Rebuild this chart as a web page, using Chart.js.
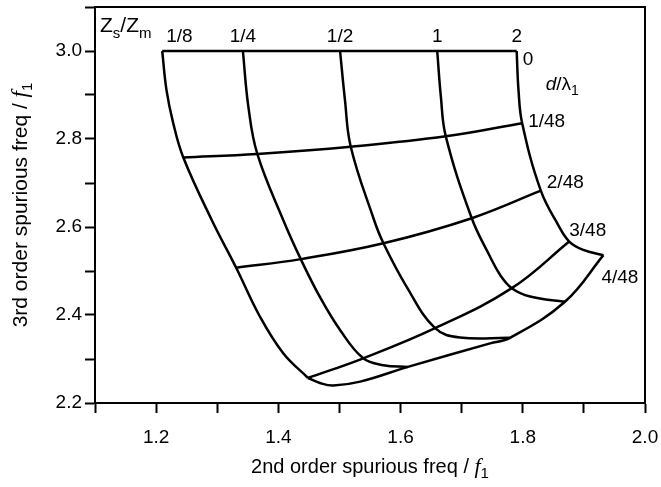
<!DOCTYPE html>
<html>
<head>
<meta charset="utf-8">
<script src="https://cdn.jsdelivr.net/npm/chart.js@4"></script>
<style>
  html, body { margin: 0; padding: 0; background: #fff; }
  #chart { display: block; }
</style>
</head>
<body>
<canvas id="chart" width="661" height="487"></canvas>
<script>
// curve labels
const zsNames = ['1/8', '1/4', '1/2', '1', '2'];
const dNames = ['0', '1/48', '2/48', '3/48', '4/48'];

// lines of constant Zs/Zm, [2nd order freq, 3rd order freq]
const zsEighth = [[1.210, 3.000], [1.217, 2.911], [1.228, 2.836], [1.2445, 2.758], [1.291, 2.616], [1.331, 2.5075], [1.370, 2.396], [1.408, 2.313], [1.4486, 2.2568]];
const zsQuarter = [[1.342, 3.000], [1.351, 2.873], [1.3656, 2.766], [1.408, 2.616], [1.4367, 2.527], [1.468, 2.441], [1.501, 2.366], [1.539, 2.3016], [1.572, 2.286], [1.612, 2.282]];
const zsHalf = [[1.501, 3.000], [1.509, 2.889], [1.5185, 2.7825], [1.5555, 2.6205], [1.572, 2.563], [1.610, 2.464], [1.6565, 2.370], [1.697, 2.349], [1.779, 2.348]];
const zsOne = [[1.660, 3.000], [1.666, 2.896], [1.674, 2.806], [1.7165, 2.620], [1.7465, 2.5325], [1.763, 2.491], [1.782, 2.461], [1.812, 2.442], [1.869, 2.430]];
const zsTwo = [[1.790, 3.000], [1.793, 2.911], [1.799, 2.836], [1.8295, 2.6825], [1.858, 2.6045], [1.876, 2.567], [1.899, 2.548], [1.932, 2.536]];

// lines of constant d/lambda1
const dZero = [[1.210, 3.000], [1.790, 3.000]];
const dOne = [[1.2445, 2.758], [1.3656, 2.766], [1.5185, 2.7825], [1.674, 2.806], [1.799, 2.836]];
const dTwo = [[1.331, 2.5075], [1.4367, 2.527], [1.572, 2.563], [1.7165, 2.620], [1.8295, 2.6825]];
const dThree = [[1.4486, 2.2568], [1.539, 2.3016], [1.6565, 2.370], [1.782, 2.461], [1.876, 2.567]];
const dFour = [[1.4486, 2.2568], [1.468, 2.2455], [1.490, 2.2398], [1.534, 2.2485], [1.612, 2.282], [1.7465, 2.3356], [1.779, 2.348], [1.869, 2.430], [1.932, 2.536]];

const zsCurves = [zsEighth, zsQuarter, zsHalf, zsOne, zsTwo];
const dCurves = [dZero, dOne, dTwo, dThree, dFour];

const SANS = '"Liberation Sans", Arial, sans-serif';
const SERIF = '"Liberation Serif", "Times New Roman", serif';

// pixel nudges for the d/lambda labels, relative to each line's right end
const dLabelNudge = [[6, 9], [6, -1], [6, -8], [0, -11], [-2, 23]];

function toPoints(arr) {
    return arr.map(p => ({ x: p[0], y: p[1] }));
}

function lineSet(name, arr) {
    return {
        label: name,
        data: toPoints(arr),
        showLine: true,
        borderColor: '#000',
        borderWidth: 2.5,
        pointRadius: 0,
        tension: 0.4,
        fill: false
    };
}

// draws a run of text pieces with their own fonts and baseline shifts
function drawRich(ctx, parts, x, y, align) {
    let total = 0;
    parts.forEach(p => { ctx.font = p.f; p.w = ctx.measureText(p.t).width; total += p.w; });
    let cx = align === 'center' ? x - total / 2 : x;
    ctx.textAlign = 'left';
    ctx.textBaseline = 'alphabetic';
    parts.forEach(p => {
        ctx.font = p.f;
        ctx.fillText(p.t, cx, y + (p.dy || 0));
        cx += p.w;
    });
}

const annotate = {
    id: 'annotate',
    afterDraw(chart) {
        const { ctx, chartArea: a, scales: { x, y } } = chart;
        ctx.save();
        // top and right frame
        ctx.strokeStyle = '#000';
        ctx.lineWidth = 2;
        ctx.beginPath();
        ctx.moveTo(a.left, a.top);
        ctx.lineTo(a.right, a.top);
        ctx.lineTo(a.right, a.bottom);
        ctx.stroke();

        ctx.fillStyle = '#000';
        ctx.textBaseline = 'middle';

        // Zs/Zm labels above the top ends
        ctx.font = '19px ' + SANS;
        zsCurves.forEach((c, i) => {
            const px = x.getPixelForValue(c[0][0]);
            const py = y.getPixelForValue(c[0][1]) - 14;
            if (i === 0) {
                ctx.textAlign = 'left';
                ctx.fillText(zsNames[i], px + 4, py);
            } else {
                ctx.textAlign = 'center';
                ctx.fillText(zsNames[i], px, py);
            }
        });

        // d/lambda labels at the right ends
        ctx.textAlign = 'left';
        dCurves.forEach((c, i) => {
            const end = c[c.length - 1];
            const px = x.getPixelForValue(end[0]) + dLabelNudge[i][0];
            const py = y.getPixelForValue(end[1]) + dLabelNudge[i][1];
            ctx.font = '19px ' + SANS;
            ctx.textBaseline = 'middle';
            ctx.fillText(dNames[i], px, py);
        });

        // group titles
        const x0 = x.getPixelForValue(dZero[1][0]);
        const y0 = y.getPixelForValue(dZero[1][1]);
        drawRich(ctx, [
            { t: 'd', f: 'italic 19px ' + SANS },
            { t: '/\u03bb', f: '19px ' + SANS },
            { t: '1', f: '14px ' + SANS, dy: 5 }
        ], x0 + 29, y0 + 39, 'left');

        drawRich(ctx, [
            { t: 'Z', f: '21px ' + SANS },
            { t: 's', f: '15px ' + SANS, dy: 6 },
            { t: '/Z', f: '21px ' + SANS },
            { t: 'm', f: '15px ' + SANS, dy: 6 }
        ], a.left + 5, a.top + 25, 'left');

        // axis titles
        drawRich(ctx, [
            { t: '2nd order spurious freq / ', f: '20px ' + SANS },
            { t: 'f', f: 'italic 22px ' + SERIF },
            { t: '1', f: '15px ' + SANS, dy: 5 }
        ], (a.left + a.right) / 2, 473, 'center');

        ctx.translate(27, (a.top + a.bottom) / 2);
        ctx.rotate(-Math.PI / 2);
        drawRich(ctx, [
            { t: '3rd order spurious freq / ', f: '21px ' + SANS },
            { t: 'f', f: 'italic 23px ' + SERIF },
            { t: '1', f: '15px ' + SANS, dy: 5 }
        ], 0, 0, 'center');
        ctx.restore();
    }
};

const evenTenth = v => (Math.round(v * 10) % 2 === 0 ? v.toFixed(1) : '');

new Chart(document.getElementById('chart'), {
    type: 'scatter',
    data: {
        datasets: [
            ...zsCurves.map((c, i) => lineSet('Zs/Zm ' + zsNames[i], c)),
            ...dCurves.map((c, i) => lineSet('d ' + dNames[i], c))
        ]
    },
    options: {
        responsive: false,
        animation: false,
        devicePixelRatio: 1,
        layout: { padding: { left: 0, top: 7, right: 16, bottom: 0 } },
        plugins: {
            legend: { display: false },
            tooltip: { enabled: false }
        },
        scales: {
            x: {
                type: 'linear',
                min: 1.1,
                max: 2.0,
                afterFit: s => {
                    s.height = 84;
                    s.paddingLeft = 0;
                    s.paddingRight = 0;
                },
                ticks: {
                    stepSize: 0.1,
                    autoSkip: false,
                    maxRotation: 0,
                    padding: 13,
                    color: '#000',
                    font: { family: SANS, size: 19 },
                    callback: evenTenth
                },
                grid: { drawOnChartArea: false, tickLength: 10, tickColor: '#000', tickWidth: 2 },
                border: { display: true, color: '#000', width: 2 }
            },
            y: {
                type: 'linear',
                min: 2.2,
                max: 3.1,
                afterFit: s => {
                    s.width = 95;
                    s.paddingTop = 0;
                    s.paddingBottom = 0;
                },
                ticks: {
                    stepSize: 0.1,
                    autoSkip: false,
                    padding: 3,
                    color: '#000',
                    font: { family: SANS, size: 19 },
                    callback: evenTenth
                },
                grid: { drawOnChartArea: false, tickLength: 10, tickColor: '#000', tickWidth: 2 },
                border: { display: true, color: '#000', width: 2 }
            }
        }
    },
    plugins: [annotate]
});
</script>
</body>
</html>
